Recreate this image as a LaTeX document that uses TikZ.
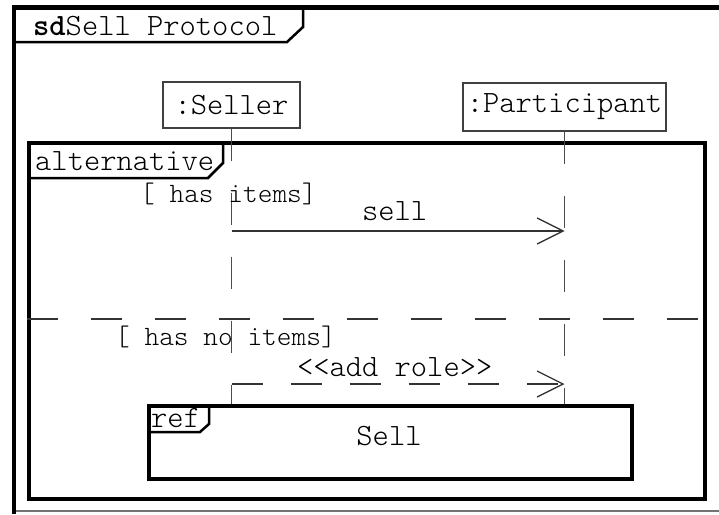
\documentclass[tikz,border=0pt]{standalone}
\usepackage{fontspec}
\usetikzlibrary{arrows.meta}

% light typewriter face for all diagram text
\newfontfamily\umlfont{lmmonolt10-regular.otf}[BoldFont=lmmonolt10-bold.otf]

\tikzset{
  uml/.style={font=\umlfont\fontsize{31}{31}\selectfont, inner sep=0pt},
  guard/.style={font=\umlfont\fontsize{28}{28}\selectfont, inner sep=0pt},
  lifebox/.style={draw=black!75, line width=1.3pt, fill=white, uml},
  lifeline/.style={draw=black!70, line width=1.3pt, dash pattern=on 32pt off 32pt},
  fragment/.style={draw=black, line width=4pt, inner sep=0pt},
  tabline/.style={draw=black, line width=2.5pt, line join=miter},
  divider/.style={draw=black!80, line width=1.3pt, dash pattern=on 31pt off 33pt},
  syncmsg/.style={draw=black!80, line width=1.3pt,
    -{Straight Barb[length=26pt,width=26pt,line width=1.3pt]}},
  replymsg/.style={syncmsg, dash pattern=on 31pt off 28pt},
}

\begin{document}
\begin{tikzpicture}[x=1pt,y=-1pt]
\useasboundingbox (0,0) rectangle (719,514);

% diagram frame (left and top edges, bottom rule)
\draw[line width=4pt] (14,514) -- (14,5);
\draw[line width=5pt] (12,7.5) -- (719,7.5);
\draw[black!55, line width=1.5pt] (16,511) -- (719,511);

% sd name tab
\draw[tabline] (12,42) -- (287,42) -- (303,27) -- (303,8);
\node[uml, anchor=base west] (title) at (33,35) {{\bfseries sd}Sell Protocol};

% combined fragment
\node[fragment, minimum width=676pt, minimum height=356pt, anchor=north west] (alt) at (27,141) {};
\draw[tabline] (27,178) -- (208,178) -- (223,163) -- (223,141);
\node[uml, anchor=base west] (altlabel) at (35,170) {alternative};

% operand separator
\coordinate (split) at (0,319);
\draw[divider] (alt.west |- split) -- (alt.east |- split);

% lifeline heads
\node[lifebox, minimum width=137pt, minimum height=46pt] (seller) at (231.5,105) {:Seller};
\node[lifebox, minimum width=203pt, minimum height=48pt] (part) at (564.5,107) {:Participant};

% lifelines
\coordinate (lifeend) at (0,477);
\draw[lifeline] (seller.south) -- (seller.south |- lifeend);
\draw[lifeline] (part.south) -- (part.south |- lifeend);

% guards
\node[guard, anchor=base west] (g1) at (140,202) {[ has items]};
\node[guard, anchor=base west] (g2) at (115,345) {[ has no items]};

% messages
\coordinate (m1) at (0,231);
\coordinate (m2) at (0,384);
\draw[syncmsg] (seller.south |- m1) -- (part.south |- m1)
  node[uml, pos=0.49, anchor=base, yshift=11pt] (sellmsg) {sell};
\draw[replymsg] (seller.south |- m2) -- (part.south |- m2)
  node[uml, pos=0.49, anchor=base, yshift=8pt] (addmsg) {<<add role>>};

% interaction use
\node[fragment, fill=white, minimum width=483pt, minimum height=73pt, anchor=north west] (ref) at (147,404) {};
\draw[tabline] (147,432) -- (200,432) -- (209,424) -- (209,404);
\node[uml, anchor=base west] (reflabel) at (151,427) {ref};
\node[uml, anchor=base] (refname) at (389,445) {Sell};
\end{tikzpicture}
\end{document}
